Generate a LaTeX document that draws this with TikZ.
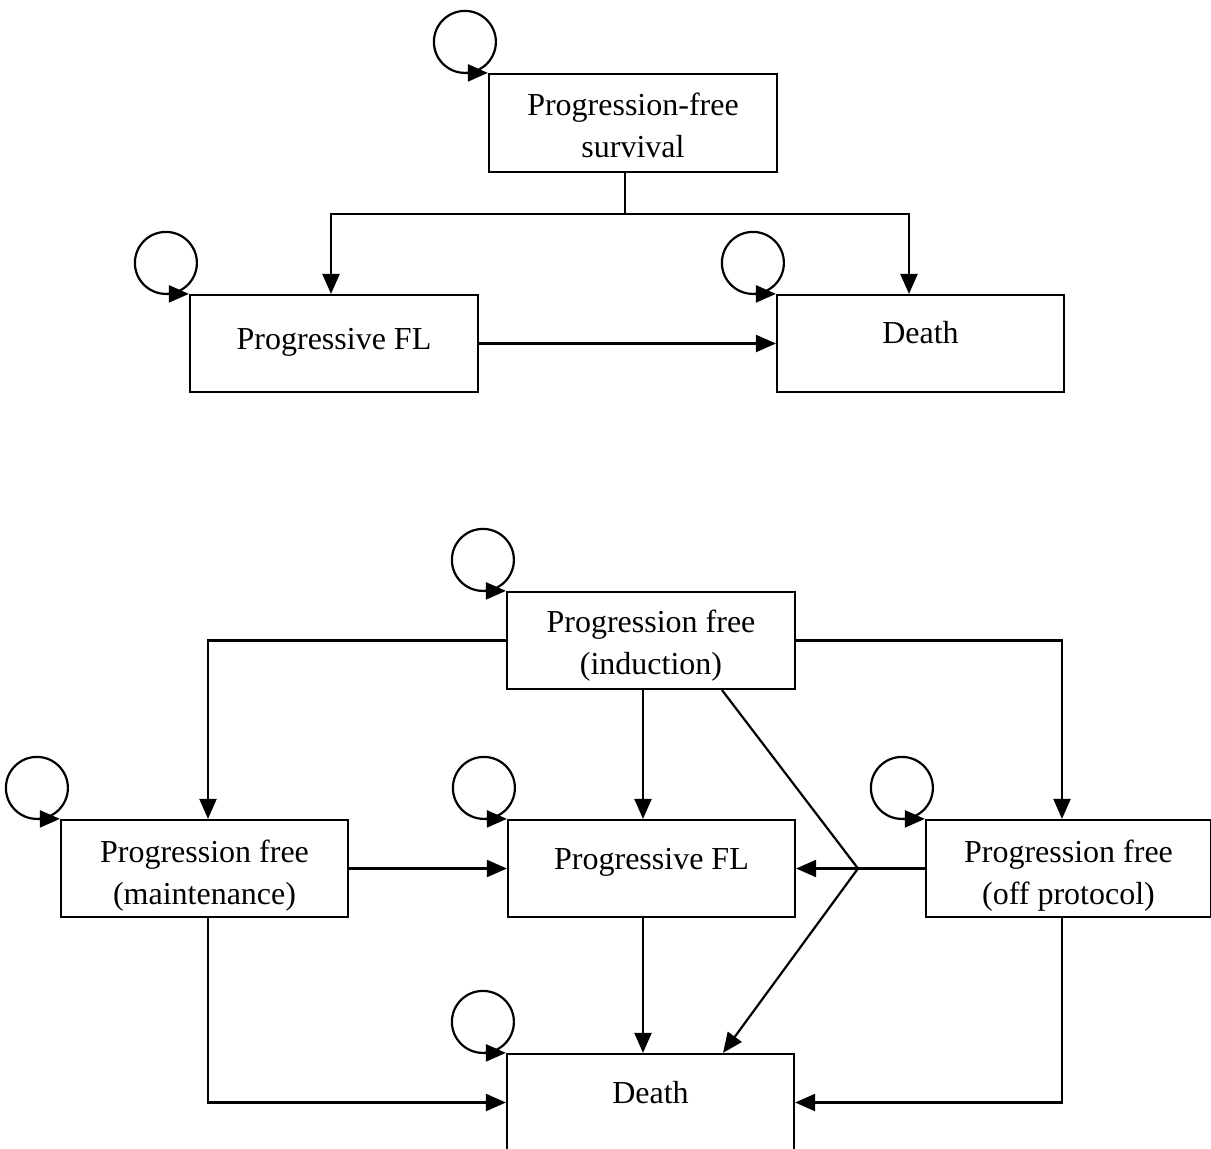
\documentclass[tikz,border=0pt]{standalone}
\usepackage{fontspec}
\setmainfont{Liberation Serif}
\usetikzlibrary{arrows.meta,calc}
\tikzset{
  box/.style={draw, line width=2.2pt, inner sep=0pt, align=center,
    font=\fontsize{32}{42}\selectfont},
  wide/.style={minimum width=288pt, minimum height=97pt},
  conn/.style={line width=2.2pt},
  arr/.style={line width=2.2pt, -{Triangle[length=20pt,width=17pt]}},
}
\newcommand{\selfloop}[1]{%
  \draw[arr] ($(#1.north west)+(-23,0)$) arc[start angle=270, end angle=630, radius=31pt] -- (#1.north west);}
\newcommand{\lift}[1]{\rule{0pt}{#1}}
\begin{document}
\begin{tikzpicture}[x=1pt,y=-1pt]
\useasboundingbox (0,0) rectangle (1211,1149);
\clip (0,0) rectangle (1211,1149);
\fill[white] (0,0) rectangle (1211,1149);
% ---------- top diagram ----------
\node[box, minimum width=288pt, minimum height=98pt] (pfs) at (633,123) {\lift{27pt}Progression-free\\survival};
\node[box, wide, text height=22pt, text depth=11pt] (pfl1) at (334,343.5) {Progressive FL};
\node[box, minimum width=287pt, minimum height=97pt, text height=22pt, text depth=23pt] (death1) at (920.5,343.5) {Death};
\coordinate (tj) at (625,214);
\draw[conn] (pfs.south -| tj) -- (tj);
\draw[arr] (tj) -| ([xshift=-3pt]pfl1.north);
\draw[arr] (tj) -| ([xshift=-11.5pt]death1.north);
\draw[arr] (pfl1.east) -- (death1.west);
\selfloop{pfs}
\selfloop{pfl1}
\selfloop{death1}
% ---------- bottom diagram ----------
\node[box, wide] (ind) at (651,640.5) {\lift{32pt}Progression free\\(induction)};
\node[box, minimum width=287pt, minimum height=97pt] (maint) at (204.5,868.5) {\lift{36pt}Progression free\\(maintenance)};
\node[box, minimum width=287pt, minimum height=97pt, text height=22pt, text depth=21pt] (pfl2) at (651.5,868.5) {Progressive FL};
\node[box, minimum width=285pt, minimum height=97pt] (off) at (1068.5,868.5) {\lift{36pt}Progression free\\(off protocol)};
\node[box, minimum width=287pt, minimum height=97pt, text height=22pt, text depth=21pt] (death2) at (650.5,1102.5) {Death};
\coordinate (jn) at (858,868.5);
\coordinate (dtop) at (722,689);
\draw[arr] (ind.west) -| ([xshift=3.5pt]maint.north);
\draw[arr] (ind.east) -| ([xshift=-6.5pt]off.north);
\draw[arr] ([xshift=-8pt]ind.south) -- ([xshift=-8.5pt]pfl2.north);
\draw[conn] (ind.south -| dtop) -- (jn);
\draw[arr] (jn) -- (pfl2.east);
\draw[conn] (off.west) -- (jn);
\draw[arr] (jn) -- ([xshift=72.5pt]death2.north);
\draw[arr] (maint.east) -- (pfl2.west);
\draw[arr] ([xshift=-8.5pt]pfl2.south) -- ([xshift=-7.5pt]death2.north);
\draw[arr] ([xshift=3.5pt]maint.south) |- (death2.west);
\draw[arr] ([xshift=-6.5pt]off.south) |- (death2.east);
\selfloop{ind}
\selfloop{maint}
\selfloop{pfl2}
\selfloop{off}
\selfloop{death2}
\end{tikzpicture}
\end{document}
